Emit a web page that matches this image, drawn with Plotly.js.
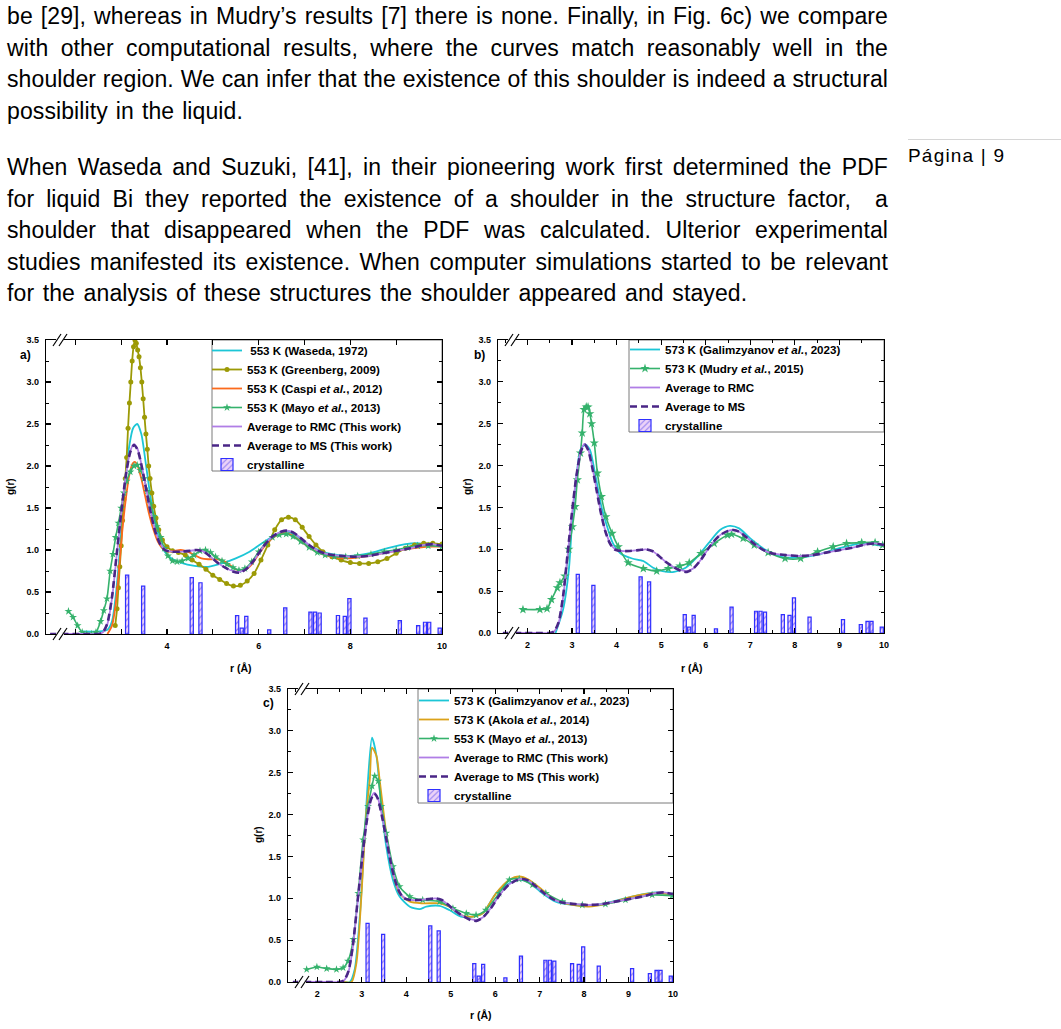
<!DOCTYPE html>
<html>
<head>
<meta charset="utf-8">
<script src="https://cdn.plot.ly/plotly-3.0.1.min.js"></script>
<style>
  html, body { margin: 0; padding: 0; background: #fff; }
  #page { position: relative; width: 1061px; height: 1029px; overflow: hidden; background: #fff; }
  #fig { position: absolute; left: 0; top: 0; width: 1061px; height: 1029px; }
  .para { position: absolute; left: 7px; width: 881px; font-family: 'Liberation Sans', Arial, sans-serif;
          font-size: 23px; line-height: 31.5px; color: #000; letter-spacing: 0.1px; z-index: 2; }
  .para div { text-align: justify; text-align-last: justify; white-space: nowrap; }
  .para div.last { text-align-last: left; }
  #pagenum { position: absolute; left: 908px; top: 145px; font-family: 'Liberation Sans', Arial, sans-serif;
             font-size: 19px; letter-spacing: 1.2px; color: #000; z-index: 2; }
  #pagerule { position: absolute; left: 908px; top: 139px; width: 153px; height: 1px; background: #d6d6d6; z-index: 2; }
</style>
</head>
<body>
<div id="page">
  <div id="fig"></div>
  <div class="para" style="top:1px">
    <div>be [29], whereas in Mudry’s results [7] there is none. Finally, in Fig. 6c) we compare</div>
    <div>with other computational results, where the curves match reasonably well in the</div>
    <div>shoulder region. We can infer that the existence of this shoulder is indeed a structural</div>
    <div class="last" style="word-spacing:1.5px">possibility in the liquid.</div>
  </div>
  <div class="para" style="top:152px">
    <div>When Waseda and Suzuki, [41], in their pioneering work first determined the PDF</div>
    <div>for liquid Bi they reported the existence of a shoulder in the structure factor, &nbsp;a</div>
    <div>shoulder that disappeared when the PDF was calculated. Ulterior experimental</div>
    <div>studies manifested its existence. When computer simulations started to be relevant</div>
    <div class="last" style="word-spacing:2.1px">for the analysis of these structures the shoulder appeared and stayed.</div>
  </div>
  <div id="pagerule"></div>
  <div id="pagenum">Página | 9</div>
</div>
<script>
// ---- crystalline Bi reference distances (Å) and bar heights ----
const crystR = [3.13, 3.48, 4.54, 4.73, 5.53, 5.63, 5.73, 6.23, 6.58, 7.13, 7.23, 7.33, 7.73, 7.88, 7.98, 8.33, 9.08, 9.48, 9.63, 9.72, 9.95];
const crystH = [0.70, 0.57, 0.67, 0.61, 0.22, 0.07, 0.21, 0.05, 0.31, 0.26, 0.26, 0.25, 0.22, 0.21, 0.42, 0.19, 0.16, 0.10, 0.14, 0.14, 0.07];

// ---- this work: averaged g(r) from RMC and MS ----
const rThisWork = [1.45, 2.3, 2.5, 2.6, 2.7, 2.8, 2.9, 3.0, 3.1, 3.2, 3.28, 3.36, 3.45, 3.55, 3.65, 3.75, 3.85, 3.95, 4.1, 4.3, 4.5, 4.65, 4.8, 4.95, 5.1, 5.3, 5.45, 5.58, 5.72, 5.9, 6.1, 6.3, 6.5, 6.62, 6.75, 6.9, 7.1, 7.3, 7.5, 7.8, 8.1, 8.4, 8.7, 9.0, 9.3, 9.6, 9.8, 10.0];
const gRMC = [0, 0, 0, 0.02, 0.12, 0.42, 0.92, 1.42, 1.88, 2.18, 2.26, 2.2, 2.0, 1.72, 1.44, 1.22, 1.08, 1.01, 0.98, 0.98, 0.99, 1.0, 0.98, 0.92, 0.85, 0.78, 0.75, 0.74, 0.77, 0.88, 1.04, 1.16, 1.22, 1.23, 1.21, 1.15, 1.06, 0.99, 0.95, 0.93, 0.92, 0.93, 0.96, 0.99, 1.02, 1.06, 1.07, 1.05];
const gMS = [0, 0, 0, 0.02, 0.13, 0.44, 0.94, 1.44, 1.88, 2.17, 2.25, 2.19, 1.99, 1.71, 1.43, 1.21, 1.07, 1.0, 0.98, 0.98, 0.99, 1.0, 0.98, 0.92, 0.85, 0.78, 0.74, 0.73, 0.77, 0.88, 1.04, 1.16, 1.22, 1.23, 1.21, 1.15, 1.06, 0.99, 0.95, 0.93, 0.92, 0.93, 0.96, 0.99, 1.02, 1.06, 1.07, 1.05];

// ---- panel a) 553 K experimental / literature curves ----
const rWaseda = [2.15, 2.5, 2.7, 2.8, 2.88, 2.95, 3.02, 3.1, 3.18, 3.26, 3.35, 3.44, 3.52, 3.6, 3.68, 3.76, 3.85, 3.95, 4.1, 4.3, 4.6, 4.9, 5.2, 5.5, 5.8, 6.1, 6.4, 6.6, 6.8, 7.0, 7.3, 7.6, 8.0, 8.4, 8.8, 9.2, 9.5, 9.8, 10.0];
const gWaseda = [0.03, 0.03, 0.05, 0.15, 0.45, 0.85, 1.35, 1.9, 2.25, 2.45, 2.5, 2.38, 2.1, 1.78, 1.5, 1.27, 1.1, 0.98, 0.9, 0.85, 0.81, 0.8, 0.84, 0.9, 0.98, 1.09, 1.19, 1.22, 1.18, 1.09, 1.0, 0.95, 0.93, 0.96, 1.02, 1.07, 1.08, 1.06, 1.05];

const rGreenberg = [2.87, 2.91, 2.94, 2.97, 3.0, 3.03, 3.06, 3.09, 3.12, 3.15, 3.18, 3.21, 3.24, 3.27, 3.3, 3.33, 3.36, 3.39, 3.42, 3.45, 3.48, 3.51, 3.54, 3.57, 3.6, 3.63, 3.67, 3.71, 3.76, 3.82, 3.9, 4.0, 4.12, 4.25, 4.4, 4.55, 4.7, 4.85, 5.0, 5.15, 5.3, 5.45, 5.6, 5.75, 5.9, 6.05, 6.2, 6.35, 6.5, 6.65, 6.8, 6.95, 7.1, 7.25, 7.4, 7.6, 7.8, 8.0, 8.2, 8.4, 8.6, 8.8, 9.0, 9.2, 9.4, 9.6, 9.8, 10.0];
const gGreenberg = [0.1, 0.3, 0.55, 0.8, 1.05, 1.35, 1.6, 1.85, 2.1, 2.45, 2.75, 3.0, 3.25, 3.42, 3.5, 3.46, 3.38, 3.3, 3.17, 3.0, 2.8, 2.58, 2.38, 2.2, 2.0, 1.85, 1.68, 1.52, 1.38, 1.24, 1.12, 1.04, 0.99, 0.97, 0.94, 0.88, 0.83, 0.77, 0.7, 0.65, 0.6, 0.57, 0.58, 0.63, 0.72, 0.88, 1.06, 1.24, 1.36, 1.39, 1.36, 1.27, 1.16, 1.06, 0.98, 0.92, 0.88, 0.85, 0.84, 0.84, 0.86, 0.9, 0.96, 1.02, 1.06, 1.08, 1.08, 1.07];

const rCaspi = [2.7, 2.8, 2.88, 2.95, 3.02, 3.1, 3.18, 3.25, 3.3, 3.36, 3.44, 3.52, 3.6, 3.7, 3.8, 3.9, 4.0, 4.15, 4.3, 4.45, 4.6, 4.75, 4.9, 5.05, 5.2, 5.35, 5.5, 5.6, 5.7, 5.85, 6.0, 6.15, 6.3, 6.45, 6.6, 6.75, 6.9, 7.1, 7.3, 7.5, 7.7, 8.0, 8.3, 8.6, 8.9, 9.2, 9.5, 9.8, 10.0];
const gCaspi = [0.0, 0.1, 0.35, 0.75, 1.2, 1.6, 1.9, 2.03, 2.05, 2.0, 1.85, 1.65, 1.45, 1.25, 1.1, 1.02, 0.98, 0.99, 1.0, 0.98, 0.94, 0.9, 0.89, 0.89, 0.88, 0.83, 0.77, 0.75, 0.76, 0.83, 0.95, 1.06, 1.14, 1.19, 1.2, 1.17, 1.11, 1.03, 0.97, 0.93, 0.91, 0.9, 0.92, 0.95, 0.98, 1.01, 1.03, 1.04, 1.04];

const rMayoA = [1.85, 1.95, 2.05, 2.15, 2.25, 2.35, 2.45, 2.55, 2.62, 2.69, 2.76, 2.82, 2.88, 2.94, 3.0, 3.06, 3.12, 3.2, 3.28, 3.35, 3.42, 3.5, 3.57, 3.64, 3.71, 3.78, 3.86, 3.94, 4.02, 4.12, 4.22, 4.33, 4.46, 4.59, 4.72, 4.84, 4.95, 5.06, 5.2, 5.31, 5.44, 5.57, 5.7, 5.85, 6.0, 6.15, 6.3, 6.45, 6.6, 6.75, 6.92, 7.1, 7.28, 7.45, 7.65, 7.9, 8.16, 8.45, 8.74, 9.0, 9.25, 9.47, 9.7, 10.0];
const gMayoA = [0.27, 0.2, 0.1, 0.02, 0.0, 0.0, 0.02, 0.15, 0.28, 0.42, 0.75, 0.95, 1.15, 1.32, 1.5, 1.68, 1.82, 1.93, 2.0, 2.01, 1.95, 1.85, 1.7, 1.55, 1.4, 1.28, 1.15, 1.02, 0.93, 0.87, 0.86, 0.87, 0.9, 0.94, 0.99, 1.0, 0.97, 0.92, 0.87, 0.83, 0.79, 0.76, 0.78, 0.86, 0.98, 1.08, 1.15, 1.18, 1.19, 1.16, 1.1, 1.03, 0.97, 0.94, 0.92, 0.92, 0.93, 0.95, 0.98, 1.0, 1.03, 1.05, 1.05, 1.04];

// ---- panel b) 573 K curves ----
const rGalimB = [2.63, 2.8, 2.93, 3.01, 3.1, 3.19, 3.3, 3.4, 3.53, 3.66, 3.79, 3.92, 4.09, 4.35, 4.6, 4.82, 5.03, 5.29, 5.55, 5.81, 6.06, 6.32, 6.54, 6.75, 7.0, 7.35, 7.7, 8.04, 8.47, 8.98, 9.5, 9.97];
const gGalimB = [0, 0.28, 0.76, 1.39, 1.87, 2.19, 2.25, 2.19, 1.87, 1.51, 1.27, 1.07, 0.95, 0.89, 0.86, 0.78, 0.74, 0.73, 0.78, 0.91, 1.07, 1.23, 1.28, 1.25, 1.13, 0.99, 0.91, 0.9, 0.93, 1.01, 1.07, 1.04];

const rMudry = [1.9, 2.28, 2.44, 2.54, 2.67, 2.73, 2.84, 2.93, 3.01, 3.07, 3.12, 3.19, 3.23, 3.27, 3.32, 3.36, 3.4, 3.44, 3.5, 3.57, 3.66, 3.76, 3.9, 4.04, 4.26, 4.6, 4.9, 5.16, 5.42, 5.63, 5.89, 6.19, 6.49, 6.58, 6.84, 7.09, 7.4, 7.78, 8.13, 8.51, 8.86, 9.16, 9.5, 9.8, 9.97];
const gMudry = [0.28, 0.28, 0.29, 0.4, 0.54, 0.6, 0.68, 1.0, 1.27, 1.51, 1.83, 2.15, 2.39, 2.67, 2.7, 2.7, 2.62, 2.5, 2.27, 1.91, 1.63, 1.39, 1.19, 1.03, 0.84, 0.77, 0.74, 0.77, 0.8, 0.84, 0.95, 1.07, 1.17, 1.18, 1.13, 1.05, 0.96, 0.89, 0.89, 0.97, 1.03, 1.07, 1.08, 1.08, 1.05];

// ---- panel c) computational curves ----
const rGalimC = [2.6, 2.73, 2.84, 2.96, 3.05, 3.14, 3.23, 3.33, 3.44, 3.55, 3.7, 3.85, 4.08, 4.3, 4.45, 4.75, 4.97, 5.23, 5.5, 5.72, 6.02, 6.32, 6.54, 6.76, 7.06, 7.36, 7.74, 8.11, 8.48, 9.08, 9.6, 9.98];
const gGalimC = [0, 0, 0.15, 0.82, 1.62, 2.42, 2.92, 2.7, 2.1, 1.62, 1.22, 1.02, 0.9, 0.87, 0.9, 0.91, 0.86, 0.78, 0.78, 0.82, 1.06, 1.18, 1.22, 1.19, 1.06, 0.96, 0.92, 0.91, 0.94, 1.02, 1.07, 1.04];

const rAkola = [2.6, 2.77, 2.88, 2.99, 3.1, 3.18, 3.23, 3.33, 3.4, 3.55, 3.7, 3.85, 4.08, 4.37, 4.75, 4.97, 5.23, 5.5, 5.72, 6.02, 6.32, 6.54, 6.76, 7.06, 7.36, 7.74, 8.11, 8.48, 9.08, 9.6, 9.98];
const gAkola = [0, 0, 0.23, 1.02, 2.02, 2.42, 2.8, 2.7, 2.42, 1.78, 1.3, 1.06, 0.96, 0.94, 0.94, 0.9, 0.8, 0.78, 0.82, 1.06, 1.22, 1.26, 1.22, 1.1, 0.98, 0.92, 0.9, 0.93, 1.02, 1.06, 1.05];

const rMayoC = [1.76, 1.99, 2.21, 2.43, 2.58, 2.69, 2.81, 2.92, 3.03, 3.14, 3.23, 3.29, 3.37, 3.44, 3.55, 3.7, 3.85, 4.08, 4.37, 4.75, 5.05, 5.35, 5.57, 5.79, 6.09, 6.32, 6.54, 6.84, 7.14, 7.51, 7.96, 8.48, 8.93, 9.53, 9.98];
const gMayoC = [0.15, 0.18, 0.16, 0.15, 0.17, 0.25, 0.51, 1.06, 1.7, 2.1, 2.34, 2.46, 2.4, 2.1, 1.78, 1.38, 1.14, 1.02, 0.98, 0.96, 0.88, 0.82, 0.8, 0.86, 1.06, 1.22, 1.23, 1.16, 1.06, 0.96, 0.92, 0.93, 0.98, 1.04, 1.03];

// ---- axis ticks ----
const yTicks = [0, 0.5, 1.0, 1.5, 2.0, 2.5, 3.0, 3.5];
const xTicksA = [2, 3, 4, 5, 6, 7, 8, 9, 10];
const xLabelsA = ['', '', '4', '', '6', '', '8', '', '10'];
const xTicksBC = [2, 3, 4, 5, 6, 7, 8, 9, 10];

// ---------------------------------------------------------------
const W = 1061, H = 1029;
const px = x => x / W;
const py = y => 1 - y / H;
const FONT = "'Liberation Sans', Arial, sans-serif";

// plot-area rectangles in page pixels
const box = {
  a: { l: 46, r: 442, t: 340, b: 634 },
  b: { l: 498, r: 884, t: 340, b: 633 },
  c: { l: 288, r: 673, t: 689, b: 982 }
};

const C = {
  cyan: '#1cc6d6', olive: '#9c9a06', orange: '#fb6a1c', green: '#35b26c',
  rmc: '#b07ee6', ms: '#4a2686', gold: '#dba21a'
};

function xAxis(bx, range, vals, text, anchor, minorD) {
  return {
    domain: [px(bx.l), px(bx.r)], anchor: anchor, range: range,
    tickmode: 'array', tickvals: vals, ticktext: text,
    ticks: 'inside', ticklen: 5, tickwidth: 1.2, tickcolor: '#000',
    minor: { ticks: 'inside', ticklen: 3, tickwidth: 1, tickcolor: '#000', tickmode: 'linear', tick0: 0, dtick: minorD },
    showline: true, linecolor: '#000', linewidth: 1.3, mirror: 'allticks',
    showgrid: false, zeroline: false, ticklabelstandoff: 3,
    tickfont: { family: FONT, size: 9, color: '#000', weight: 'bold' }
  };
}
function yAxis(bx, anchor) {
  return {
    domain: [py(bx.b), py(bx.t)], anchor: anchor, range: [0, 3.5],
    tickmode: 'array', tickvals: yTicks, ticktext: yTicks.map(v => v.toFixed(1)),
    ticks: 'inside', ticklen: 5, tickwidth: 1.2, tickcolor: '#000',
    minor: { ticks: 'inside', ticklen: 3, tickwidth: 1, tickcolor: '#000', tickmode: 'linear', tick0: 0, dtick: 0.25 },
    showline: true, linecolor: '#000', linewidth: 1.3, mirror: 'allticks',
    showgrid: false, zeroline: false, ticklabelstandoff: 4,
    tickfont: { family: FONT, size: 9, color: '#000', weight: 'bold' }
  };
}

function curve(x, y, name, color, ax, leg, opts) {
  opts = opts || {};
  const t = {
    type: 'scatter', x: x, y: y, name: name, legend: leg,
    xaxis: ax[0], yaxis: ax[1],
    mode: opts.marker ? 'lines+markers' : 'lines',
    line: { color: color, width: opts.width || 1.8, shape: 'spline', smoothing: 0.7, dash: opts.dash || 'solid' },
    cliponaxis: true
  };
  if (opts.marker) t.marker = Object.assign({ color: color }, opts.marker);
  return t;
}
function bars(ax, leg) {
  return {
    type: 'bar', x: crystR, y: crystH, width: 0.07, name: 'crystalline', legend: leg,
    xaxis: ax[0], yaxis: ax[1],
    marker: {
      color: '#ecd2f8',
      line: { color: '#2f2fff', width: 1.2 },
      pattern: { shape: '/', fgcolor: '#8c7cf2', bgcolor: '#ecd2f8', size: 5, solidity: 0.25 }
    }
  };
}

const A = ['x', 'y'], B = ['x2', 'y2'], Cc = ['x3', 'y3'];
const starA = { symbol: 'star', size: 6 };
const traces = [
  // panel a
  curve(rWaseda, gWaseda, '\u00a0553 K (Waseda, 1972)', C.cyan, A, 'legend'),
  curve(rGreenberg, gGreenberg, '553 K (Greenberg, 2009)', C.olive, A, 'legend', { marker: { symbol: 'circle', size: 5 } }),
  curve(rCaspi, gCaspi, '553 K (Caspi <i>et al.</i>, 2012)', C.orange, A, 'legend'),
  curve(rMayoA, gMayoA, '553 K (Mayo <i>et al.</i>, 2013)', C.green, A, 'legend', { marker: starA, width: 1.6 }),
  curve(rThisWork, gRMC, 'Average to RMC (This work)', C.rmc, A, 'legend'),
  curve(rThisWork, gMS, 'Average to MS (This work)', C.ms, A, 'legend', { dash: '7px,4px', width: 2.6 }),
  bars(A, 'legend'),
  // panel b
  curve(rGalimB, gGalimB, '573 K (Galimzyanov <i>et al.</i>, 2023)', C.cyan, B, 'legend2'),
  curve(rMudry, gMudry, '573 K (Mudry <i>et al.</i>, 2015)', C.green, B, 'legend2', { marker: { symbol: 'star', size: 7 }, width: 1.6 }),
  curve(rThisWork, gRMC, 'Average to RMC', C.rmc, B, 'legend2'),
  curve(rThisWork, gMS, 'Average to MS', C.ms, B, 'legend2', { dash: '7px,4px', width: 2.6 }),
  bars(B, 'legend2'),
  // panel c
  curve(rGalimC, gGalimC, '573 K (Galimzyanov <i>et al.</i>, 2023)', C.cyan, Cc, 'legend3'),
  curve(rAkola, gAkola, '573 K (Akola <i>et al.</i>, 2014)', C.gold, Cc, 'legend3'),
  curve(rMayoC, gMayoC, '553 K (Mayo <i>et al.</i>, 2013)', C.green, Cc, 'legend3', { marker: starA, width: 1.6 }),
  curve(rThisWork, gRMC, 'Average to RMC (This work)', C.rmc, Cc, 'legend3'),
  curve(rThisWork, gMS, 'Average to MS (This work)', C.ms, Cc, 'legend3', { dash: '7px,4px', width: 2.6 }),
  bars(Cc, 'legend3')
];

function legendAt(xpx, ypx) {
  return {
    x: px(xpx), y: py(ypx), xanchor: 'left', yanchor: 'top',
    bgcolor: 'rgba(0,0,0,0)', borderwidth: 0, traceorder: 'normal',
    font: { family: FONT, size: 11.6, color: '#000', weight: 'bold' },
    itemclick: false, itemdoubleclick: false
  };
}

// legend frames (white panels with a thin border)
function legendBox(l, t, r, b) {
  return { type: 'rect', xref: 'paper', yref: 'paper', x0: px(l), x1: px(r), y0: py(b), y1: py(t),
           fillcolor: '#fff', line: { color: '#7a7a7a', width: 1 }, layer: 'below' };
}
// "//" axis-break marks on the bottom and top axis lines, near the left edge
function breakMarks(xr, yr) {
  const out = [];
  [0, 1].forEach(ya => {
    out.push({ type: 'rect', xref: xr + ' domain', yref: yr + ' domain', xsizemode: 'pixel', ysizemode: 'pixel',
               xanchor: 0, yanchor: ya, x0: 10, x1: 18, y0: -1.6, y1: 1.6, fillcolor: '#fff', line: { width: 0 }, layer: 'above' });
    [7, 13].forEach(o => out.push({ type: 'line', xref: xr + ' domain', yref: yr + ' domain', xsizemode: 'pixel', ysizemode: 'pixel',
               xanchor: 0, yanchor: ya, x0: o, x1: o + 8, y0: -6, y1: 6, line: { color: '#000', width: 1.2 }, layer: 'above' }));
  });
  return out;
}

function label(text, xpx, ypx, size, angle) {
  return { text: text, xref: 'paper', yref: 'paper', x: px(xpx), y: py(ypx), xanchor: 'center', yanchor: 'middle',
           showarrow: false, textangle: angle || 0, font: { family: FONT, size: size, color: '#000', weight: 'bold' } };
}

const layout = {
  width: W, height: H, margin: { l: 0, r: 0, t: 0, b: 0 },
  paper_bgcolor: 'rgba(0,0,0,0)', plot_bgcolor: 'rgba(0,0,0,0)',
  showlegend: true, hovermode: false, barmode: 'overlay',
  xaxis: xAxis(box.a, [1.36, 10], xTicksA, xLabelsA, 'y', 1),
  yaxis: yAxis(box.a, 'x'),
  xaxis2: xAxis(box.b, [1.34, 10], xTicksBC, xTicksBC.map(String), 'y2', 0.5),
  yaxis2: yAxis(box.b, 'x2'),
  xaxis3: xAxis(box.c, [1.34, 10], xTicksBC, xTicksBC.map(String), 'y3', 0.5),
  yaxis3: yAxis(box.c, 'x3'),
  legend: legendAt(207, 336),
  legend2: legendAt(625, 335),
  legend3: legendAt(414, 686),
  shapes: [
    legendBox(212, 340, 442, 471),
    legendBox(629, 340, 884, 432),
    legendBox(418, 689, 673, 803)
  ].concat(breakMarks('x', 'y'), breakMarks('x2', 'y2'), breakMarks('x3', 'y3')),
  annotations: [
    label('a)', 25, 355, 12), label('b)', 479, 355, 12), label('c)', 268, 703, 12),
    label('g(r)', 10, 487, 10, -90), label('g(r)', 467, 487, 10, -90), label('g(r)', 258, 835, 10, -90),
    label('r (Å)', 241, 668, 10.5), label('r (Å)', 692, 668, 10.5), label('r (Å)', 481, 1015, 10.5)
  ]
};

Plotly.newPlot('fig', traces, layout, { staticPlot: true, displayModeBar: false });
</script>
</body>
</html>
